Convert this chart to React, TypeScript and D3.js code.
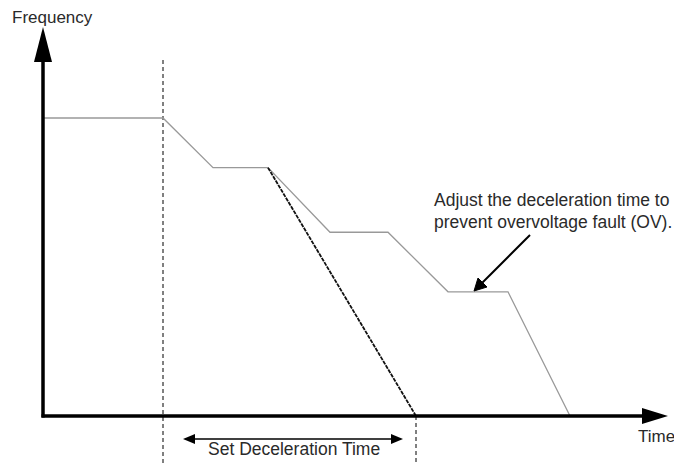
import React from "react";
import * as d3 from "d3";

// gray frequency profile (time, frequency)
const profileTime = [0, 12, 17, 22.5, 28.7, 34.5, 40.5, 46.5, 52.7];
const profileFreq = [60, 60, 50, 50, 37, 37, 25, 25, 0];

// set deceleration ramp
const rampTime = [22.5, 37.3];
const rampFreq = [50, 0];

const decelStart = 12;
const decelEnd = 37.3;

const labels = {
  yAxis: "Frequency",
  xAxis: "Time",
  note: ["Adjust the deceleration time to", "prevent overvoltage fault (OV)."],
  span: "Set Deceleration Time",
};

const W = 674;
const H = 463;

export default function App() {
  const x = d3.scaleLinear().domain([0, 60]).range([43, 643]);
  const y = d3.scaleLinear().domain([0, 60]).range([416, 118]);

  const line = d3
    .line<[number, number]>()
    .x((d) => x(d[0]))
    .y((d) => y(d[1]));

  const profile = profileTime.map((t, i) => [t, profileFreq[i]] as [number, number]);
  const ramp = rampTime.map((t, i) => [t, rampFreq[i]] as [number, number]);

  const x0 = x(0);
  const y0 = y(0);
  const font = "'Liberation Sans', Arial, sans-serif";

  return (
    <svg
      width={W}
      height={H}
      style={{ position: "absolute", left: 0, top: 0, background: "#fff" }}
    >
      {/* dashed guides */}
      <line x1={x(decelStart)} x2={x(decelStart)} y1={60} y2={H} stroke="#000" strokeWidth={1} strokeDasharray="4,3" />
      <line x1={x(decelEnd)} x2={x(decelEnd)} y1={y0} y2={H} stroke="#000" strokeWidth={1} strokeDasharray="4,3" />

      {/* gray profile */}
      <path d={line(profile) || ""} fill="none" stroke="#999" strokeWidth={1.3} />

      {/* black ramp */}
      <path d={line(ramp) || ""} fill="none" stroke="#111" strokeWidth={1.8} strokeDasharray="4,1" />

      {/* axes */}
      <line x1={x0} x2={x0} y1={y0 + 1.5} y2={50} stroke="#000" strokeWidth={3.5} />
      <path d={`M${x0},27 L${x0 - 9},62 L${x0 + 9},62 Z`} fill="#000" />
      <line x1={x0 - 1.5} x2={650} y1={y0} y2={y0} stroke="#000" strokeWidth={3.5} />
      <path d={`M668,${y0} L642,${y0 - 8} L642,${y0 + 8} Z`} fill="#000" />

      {/* axis labels */}
      <text x={12} y={22.5} fontFamily={font} fontSize={17} fill="#2a2a2a">{labels.yAxis}</text>
      <text x={638} y={442} fontFamily={font} fontSize={17} fill="#2a2a2a">{labels.xAxis}</text>

      {/* annotation */}
      <text fontFamily={font} fontSize={17.5} fill="#2a2a2a">
        <tspan x={434} y={206}>{labels.note[0]}</tspan>
        <tspan x={434} y={228}>{labels.note[1]}</tspan>
      </text>
      <line x1={530} y1={235} x2={480} y2={285} stroke="#000" strokeWidth={2} />
      <path d="M474,291 L478,278 L487,287 Z" fill="#000" stroke="#000" strokeWidth={1} />

      {/* span arrow */}
      <line x1={190} x2={396} y1={439} y2={439} stroke="#000" strokeWidth={1.5} />
      <path d="M183,439 L195,434 L195,444 Z" fill="#000" />
      <path d="M403,439 L391,434 L391,444 Z" fill="#000" />
      <text x={208} y={455} fontFamily={font} fontSize={17.5} fill="#2a2a2a">
        {labels.span}
      </text>
    </svg>
  );
}
